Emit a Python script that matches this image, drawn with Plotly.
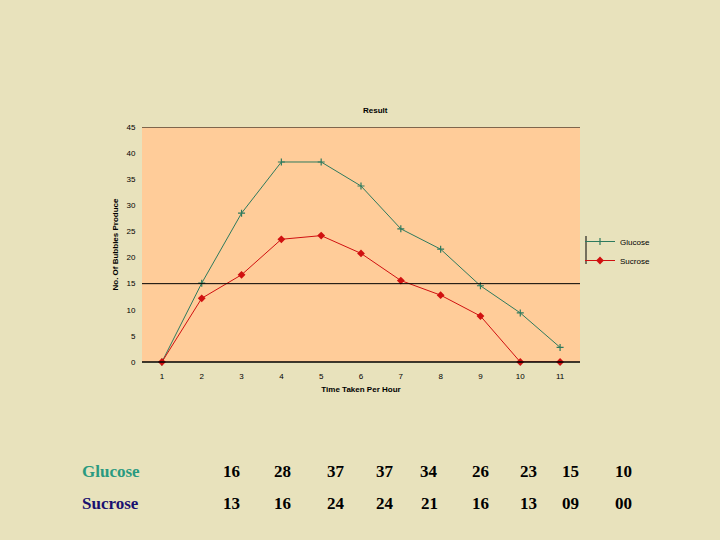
import plotly.graph_objects as go

hours = [1, 2, 3, 4, 5, 6, 7, 8, 9, 10, 11]
glucose = [0, 15.1, 28.5, 38.3, 38.3, 33.7, 25.5, 21.6, 14.6, 9.4, 2.8]
sucrose = [0, 12.2, 16.7, 23.5, 24.2, 20.8, 15.6, 12.8, 8.8, 0, 0]

table_glucose = ["16", "28", "37", "37", "34", "26", "23", "15", "10"]
table_sucrose = ["13", "16", "24", "24", "21", "16", "13", "09", "00"]
table_x_px = [231, 282, 336, 385, 429, 480, 528, 570, 623]

PL, PR, PT, PB = 142, 580, 127, 362
W, H = 720, 540

def px_x(px):
    return (px - PL) / (PR - PL)

def px_y(py):
    return (PB - py) / (PB - PT)

fig = go.Figure()
fig.add_trace(go.Scatter(
    x=hours, y=glucose, name="Glucose", mode="lines+markers",
    line=dict(color="#2E7A5E", width=1),
    marker=dict(symbol="cross-thin", size=5, line=dict(color="#2E7A5E", width=1.2)),
    cliponaxis=False))
fig.add_trace(go.Scatter(
    x=hours, y=sucrose, name="Sucrose", mode="lines+markers",
    line=dict(color="#D01010", width=1),
    marker=dict(symbol="diamond", size=6, color="#D01010"),
    cliponaxis=False))

ann = []
ann.append(dict(text="<b>Result</b>", x=px_x(375), y=px_y(110), xref="paper", yref="paper",
                xanchor="center", yanchor="middle",
                showarrow=False, font=dict(family="Arial", size=8, color="black")))
for lbl, py, col, vals in [("Glucose", 471, "#2A9A80", table_glucose),
                           ("Sucrose", 503, "#1A1070", table_sucrose)]:
    ann.append(dict(text="<b>%s</b>" % lbl, x=px_x(80), y=px_y(py), xref="paper", yref="paper",
                    xanchor="left", yanchor="middle", showarrow=False,
                    font=dict(family="Liberation Serif", size=17, color=col)))
    for v, xp in zip(vals, table_x_px):
        ann.append(dict(text="<b>%s</b>" % v, x=px_x(xp), y=px_y(py), xref="paper", yref="paper",
                        xanchor="center", yanchor="middle", showarrow=False,
                        font=dict(family="Liberation Serif", size=17, color="black")))

fig.update_layout(
    width=W, height=H,
    margin=dict(l=PL, r=W - PR, t=PT, b=H - PB),
    paper_bgcolor="#E8E2BC",
    plot_bgcolor="#FFCC99",
    showlegend=True,
    legend=dict(x=px_x(580), y=px_y(227), xanchor="left", yanchor="top",
                bgcolor="rgba(0,0,0,0)", font=dict(family="Arial", size=8, color="black"),
                itemwidth=30, tracegroupgap=0),
    annotations=ann,
    xaxis=dict(range=[0.5, 11.5], tickvals=hours, showgrid=False, zeroline=False,
               showline=False, ticks="outside", ticklen=6, tickcolor="rgba(0,0,0,0)",
               tickfont=dict(family="Arial", size=8, color="black"),
               title=dict(text="<b>Time Taken Per Hour</b>", font=dict(family="Arial", size=8, color="black"),
                          standoff=6)),
    yaxis=dict(range=[0, 45], dtick=5, showgrid=False, zeroline=False, showline=False,
               ticks="outside", ticklen=4, tickcolor="rgba(0,0,0,0)",
               tickfont=dict(family="Arial", size=8, color="black"),
               title=dict(text="<b>No. Of Bubbles Produce</b>", font=dict(family="Arial", size=8, color="black"),
                          standoff=6)),
    shapes=[
        dict(type="line", xref="paper", yref="paper", x0=0, x1=1, y0=0, y1=0,
             line=dict(color="black", width=1.5)),
        dict(type="line", xref="paper", yref="paper", x0=px_x(586), x1=px_x(586),
             y0=px_y(236), y1=px_y(264), line=dict(color="black", width=1)),
    ],
)
fig.add_hline(y=15, line=dict(color="black", width=1))
fig.add_hline(y=45, line=dict(color="black", width=1))

fig.write_html("out.html", config={"displayModeBar": False},
               post_script="document.body.style.margin='0';document.body.style.overflow='hidden';")
